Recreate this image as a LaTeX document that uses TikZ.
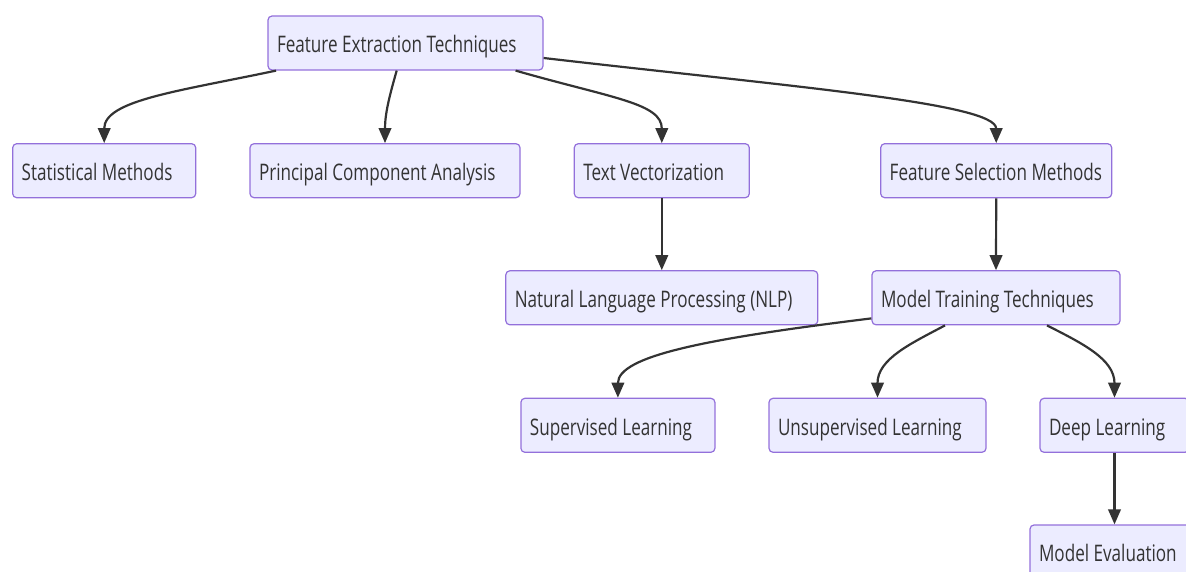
\documentclass[tikz,border=0pt]{standalone}
\usepackage{fontspec}
\setmainfont[FakeStretch=0.75]{Open Sans}
\usetikzlibrary{arrows.meta}
\definecolor{nodefill}{HTML}{ECECFF}
\definecolor{nodeline}{HTML}{9370DB}
\definecolor{edgeline}{HTML}{333333}
\tikzset{
  tech/.style={draw=nodeline,fill=nodefill,line width=1.2pt,rounded corners=4pt,
    minimum height=54pt,inner xsep=9pt,inner ysep=0pt,align=flush left,text width=#1,
    text height=22pt,text depth=2.6pt,text=edgeline,font=\fontsize{22.8}{27}\selectfont},
  link/.style={draw=edgeline,line width=2.2pt,-{Triangle[length=15pt,width=12.5pt]}}
}

\begin{document}
\begin{tikzpicture}[x=1pt,y=1pt]
  \useasboundingbox (0,0) rectangle (1186,-572);
  \node [tech=257pt] (fet) at (405.5,-43) {Feature Extraction Techniques};
  \node [tech=165pt] (stat) at (104.2,-170.7) {Statistical Methods};
  \node [tech=252pt] (pca) at (385,-170.7) {Principal Component Analysis};
  \node [tech=157pt] (tv) at (661.8,-170.7) {Text Vectorization};
  \node [tech=213pt] (fsm) at (996.2,-170.7) {Feature Selection Methods};
  \node [tech=294pt] (nlp) at (661.8,-297.8) {Natural Language Processing (NLP)};
  \node [tech=230pt] (mtt) at (996,-297.8) {Model Training Techniques};
  \node [tech=176pt] (sup) at (617.9,-425.3) {Supervised Learning};
  \node [tech=199pt] (uns) at (877.5,-425.3) {Unsupervised Learning};
  \node [tech=131pt] (deep) at (1114.5,-425.3) {Deep Learning};
  \node [tech=151pt] (eval) at (1114.5,-552) {Model Evaluation};
 \draw [link] ([xshift=8.7pt]fet.south west) to [out=192,in=90,out distance=99pt,in distance=43pt] (stat.north);
 \draw [link] ([xshift=-8.8pt]fet.south) to [out=254,in=90] (pca.north);
 \draw [link] ([xshift=-28pt]fet.south east) to [out=344,in=90,out distance=100pt,in distance=40pt] (tv.north);
 \draw [link] ([yshift=-15pt]fet.east) to [out=353.4,in=90,out distance=250pt,in distance=40pt] (fsm.north);
 \draw [link] (tv.south) -- (nlp.north);
 \draw [link] (fsm.south) -- (mtt.north);
 \draw [link] ([yshift=7pt]mtt.south west) to [out=187,in=90,out distance=165pt,in distance=42pt] (sup.north);
 \draw [link] ([xshift=-51pt]mtt.south) to [out=208,in=90] (uns.north);
 \draw [link] ([xshift=51pt]mtt.south) to [out=333,in=90] (deep.north);
 \draw [link] (deep.south) -- (eval.north);
\end{tikzpicture}
\end{document}
